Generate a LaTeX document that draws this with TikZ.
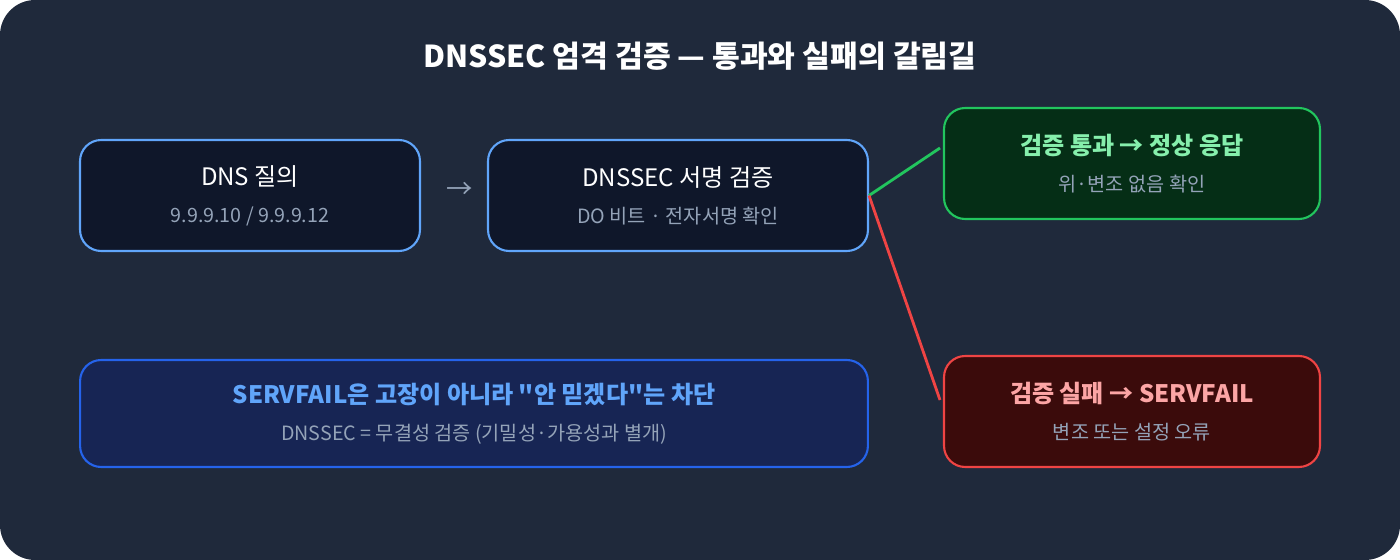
\documentclass[tikz,border=0pt]{standalone}
\usepackage{fontspec}
\setmainfont{Noto Sans CJK KR}
\newfontfamily\quotefont{Noto Sans CJK KR}
\usetikzlibrary{positioning}
\definecolor{bgc}{HTML}{1F293B}
\definecolor{boxc}{HTML}{0F172A}
\definecolor{blueb}{HTML}{60A5FA}
\definecolor{okfill}{HTML}{052E16}
\definecolor{okb}{HTML}{22C55E}
\definecolor{oktxt}{HTML}{86EFAC}
\definecolor{badfill}{HTML}{3B0B0B}
\definecolor{badb}{HTML}{EF4444}
\definecolor{badtxt}{HTML}{FCA5A5}
\definecolor{infofill}{HTML}{172554}
\definecolor{infob}{HTML}{2563EB}
\definecolor{subc}{HTML}{94A3B8}
\newcommand{\subline}{\mdseries\color{subc}\fontsize{11.2}{13}\selectfont}
\newcommand{\dq}{{\quotefont"}}
\begin{document}
\begin{tikzpicture}[x=0.02cm, y=-0.02cm,
box/.style={rectangle, rounded corners=12pt, line width=1.2pt, align=center, text=white, font=\fontsize{13.7}{20}\selectfont, inner sep=0pt, minimum height=2.22cm},
boldbox/.style={box, font=\bfseries\fontsize{13.7}{20}\selectfont},
]
\useasboundingbox (0,0) rectangle (1400,560);
\fill[bgc, rounded corners=20pt] (0,0) rectangle (1400,560);
%Nodes
\node[text=white, font=\bfseries\fontsize{17.2}{20}\selectfont] (title) at (700,56) {DNSSEC 엄격 검증 — 통과와 실패의 갈림길};
\node[box, draw=blueb, fill=boxc, minimum width=6.8cm] (query) at (250,195.5) {DNS 질의\\[1pt]{\subline 9.9.9.10 / 9.9.9.12}};
\node[box, draw=blueb, fill=boxc, minimum width=7.6cm] (verify) at (678,195.5) {DNSSEC 서명 검증\\[1pt]{\subline DO 비트 · 전자서명 확인}};
\node[boldbox, draw=okb, fill=okfill, text=oktxt, minimum width=7.52cm] (pass) at (1132,163.5) {검증 통과 → 정상 응답\\[1pt]{\subline 위·변조 없음 확인}};
\node[boldbox, draw=badb, fill=badfill, text=badtxt, minimum width=7.52cm] (fail) at (1132,411.5) {검증 실패 → SERVFAIL\\[1pt]{\subline 변조 또는 설정 오류}};
\node[boldbox, draw=infob, fill=infofill, text=blueb, minimum width=15.76cm, minimum height=2.14cm] (note) at (474,413.5) {SERVFAIL은 고장이 아니라 \dq 안 믿겠다\dq 는 차단\\[1pt]{\subline DNSSEC = 무결성 검증 (기밀성·가용성과 별개)}};
\node[text=subc, font=\fontsize{15}{16}\selectfont] (arr) at (460,190) {→};
\coordinate (passIn) at (940,148);
\coordinate (failIn) at (940,400);
%Lines
\draw[okb, line width=1.6pt] (verify.east) -- (passIn);
\draw[badb, line width=1.6pt] (verify.east) -- (failIn);
\end{tikzpicture}
\end{document}
